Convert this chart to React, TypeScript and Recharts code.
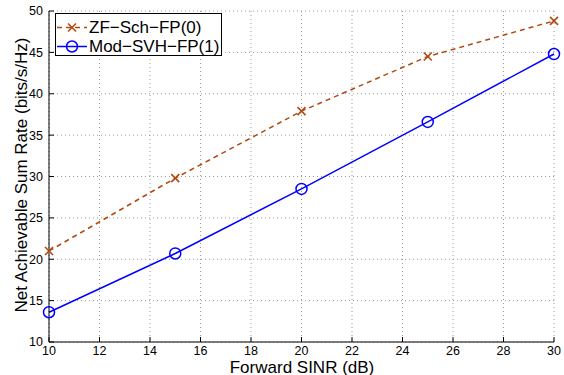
import React from "react";
import { LineChart, Line, XAxis, YAxis, CartesianGrid, Legend } from "recharts";

const sinr = [10, 15, 20, 25, 30];
const zfSch = [21.0, 29.8, 37.9, 44.5, 48.8];
const modSvh = [13.6, 20.7, 28.5, 36.6, 44.8];
const xTicks = [10, 12, 14, 16, 18, 20, 22, 24, 26, 28, 30];
const yTicks = [10, 15, 20, 25, 30, 35, 40, 45, 50];
const seriesNames = ["ZF\u2212Sch\u2212FP(0)", "Mod\u2212SVH\u2212FP(1)"];
const xTitle = "Forward SINR (dB)";
const yTitle = "Net Achievable Sum Rate (bits/s/Hz)";

const data = sinr.map((s, i) => ({ sinr: s, zf: zfSch[i], mod: modSvh[i] }));

const ZF_COLOR = "#b04a10";
const MOD_COLOR = "#0000ff";
const FONT = "Liberation Sans";

const XMark = (props: any) => {
  const { cx, cy } = props;
  if (cx == null || cy == null) return null;
  const s = 4;
  return (
    <g>
      <line x1={cx - s} y1={cy - s} x2={cx + s} y2={cy + s} stroke={ZF_COLOR} strokeWidth={1.6} />
      <line x1={cx - s} y1={cy + s} x2={cx + s} y2={cy - s} stroke={ZF_COLOR} strokeWidth={1.6} />
    </g>
  );
};

const OMark = (props: any) => {
  const { cx, cy } = props;
  if (cx == null || cy == null) return null;
  return <circle cx={cx} cy={cy} r={5.5} fill="none" stroke={MOD_COLOR} strokeWidth={1.5} />;
};

const LegendBox = () => (
  <div
    style={{
      border: "1px solid #000",
      background: "#fff",
      width: 165,
      height: 41,
      boxSizing: "content-box",
      position: "relative",
    }}
  >
    <svg width={165} height={41} style={{ position: "absolute", left: 0, top: 0 }}>
      <line x1={1} y1={13.5} x2={31} y2={13.5} stroke={ZF_COLOR} strokeWidth={1.5} strokeDasharray="5 4" />
      <XMark cx={16} cy={13.5} />
      <line x1={1} y1={32.5} x2={31} y2={32.5} stroke={MOD_COLOR} strokeWidth={1.5} />
      <OMark cx={16} cy={32.5} />
      <text x={33} y={18.8} fontFamily={FONT} fontSize={17} fill="#000">{seriesNames[0]}</text>
      <text x={33} y={37.8} fontFamily={FONT} fontSize={17} fill="#000">{seriesNames[1]}</text>
    </svg>
  </div>
);

const tickStyle = { fontFamily: FONT, fontSize: 12.5, fill: "#000" };

export default function App() {
  return (
    <div style={{ position: "absolute", left: 0, top: 0, width: 564, height: 375, background: "#fff", fontFamily: FONT }}>
      <LineChart
        width={564}
        height={375}
        data={data}
        margin={{ top: 11, right: 10, left: 0, bottom: 0 }}
        style={{ fontFamily: FONT }}
      >
        <CartesianGrid stroke="#9a9a9a" strokeDasharray="1 3" strokeWidth={1} />
        <XAxis
          dataKey="sinr"
          type="number"
          domain={[10, 30]}
          ticks={xTicks}
          height={33}
          tickSize={-5}
          tickMargin={9.5}
          tick={tickStyle}
          axisLine={{ stroke: "#000" }}
          tickLine={{ stroke: "#000" }}
          interval={0}
          label={{
            content: () => (
              <text x={302} y={372.5} textAnchor="middle" fontFamily={FONT} fontSize={17} fill="#000">
                {xTitle}
              </text>
            ),
          }}
        />
        <XAxis
          xAxisId="top"
          orientation="top"
          dataKey="sinr"
          type="number"
          domain={[10, 30]}
          ticks={xTicks}
          height={0}
          tickSize={-5}
          tick={() => <g />}
          axisLine={{ stroke: "#000" }}
          tickLine={{ stroke: "#000" }}
          interval={0}
        />
        <YAxis
          type="number"
          domain={[10, 50]}
          ticks={yTicks}
          width={49}
          tickSize={-5}
          tickMargin={11}
          tick={tickStyle}
          axisLine={{ stroke: "#000" }}
          tickLine={{ stroke: "#000" }}
          interval={0}
          label={{
            content: () => (
              <text
                x={0}
                y={0}
                transform="translate(26.5,175) rotate(-90)"
                textAnchor="middle"
                fontFamily={FONT}
                fontSize={17}
                fill="#000"
              >
                {yTitle}
              </text>
            ),
          }}
        />
        <YAxis
          yAxisId="right"
          orientation="right"
          type="number"
          domain={[10, 50]}
          ticks={yTicks}
          width={0}
          tickSize={-5}
          tick={() => <g />}
          axisLine={{ stroke: "#000" }}
          tickLine={{ stroke: "#000" }}
          interval={0}
        />
        <Legend
          layout="horizontal"
          verticalAlign="middle"
          align="center"
          wrapperStyle={{ left: 55, top: 13, width: "auto", height: "auto" }}
          content={() => <LegendBox />}
        />
        <Line
          dataKey="zf"
          name={seriesNames[0]}
          stroke={ZF_COLOR}
          strokeWidth={1.5}
          strokeDasharray="5 4"
          dot={<XMark />}
          activeDot={false}
          isAnimationActive={false}
        />
        <Line
          dataKey="mod"
          name={seriesNames[1]}
          stroke={MOD_COLOR}
          strokeWidth={1.5}
          dot={<OMark />}
          activeDot={false}
          isAnimationActive={false}
        />
      </LineChart>
    </div>
  );
}
